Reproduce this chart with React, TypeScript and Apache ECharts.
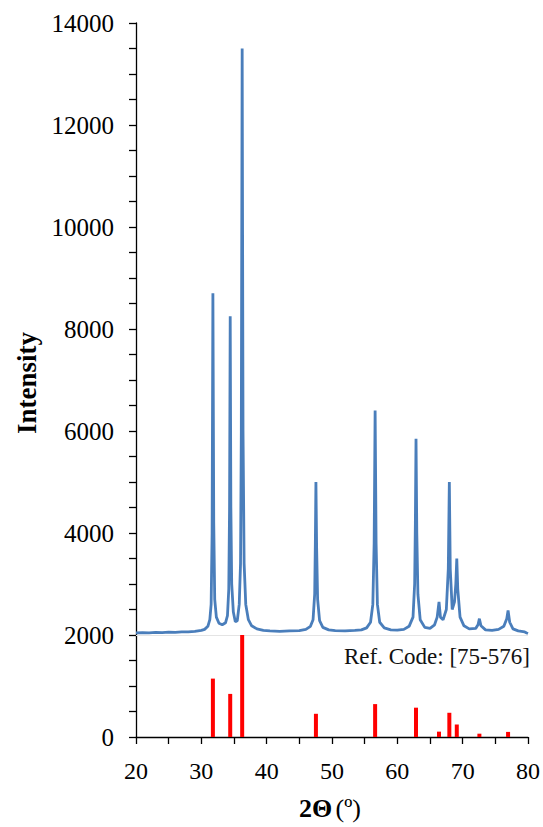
import React, { useEffect, useRef } from "react";
import * as echarts from "echarts";

const xTicks = [20, 30, 40, 50, 60, 70, 80];
const yTicks = [0, 2000, 4000, 6000, 8000, 10000, 12000, 14000];

// Measured XRD pattern (2θ, intensity)
const patternX = [
  20.0, 21, 22, 23, 24, 25, 26, 27, 28, 29, 30, 30.5, 31.0, 31.3, 31.5, 31.65, 31.77, 31.9, 32.05, 32.3,
  32.7, 33.2, 33.7, 34.0, 34.2, 34.32, 34.42, 34.52, 34.65, 34.9, 35.2, 35.5, 35.8, 36.0, 36.12, 36.25,
  36.38, 36.55, 36.8, 37.2, 37.7, 38.5, 39.5, 40.5, 42, 43.5, 45, 46, 46.7, 47.1, 47.35, 47.45, 47.54,
  47.65, 47.8, 48.1, 48.6, 49.5, 50.5, 52, 53.5, 54.5, 55.3, 55.9, 56.25, 56.45, 56.6, 56.75, 56.95,
  57.3, 58, 59, 60, 61, 61.8, 62.4, 62.65, 62.76, 62.86, 62.98, 63.15, 63.5, 64.2, 65.0, 65.7, 66.1,
  66.38, 66.6, 67.0, 67.5, 67.8, 67.96, 68.1, 68.4, 68.75, 68.95, 69.1, 69.25, 69.6, 70.2, 71, 72,
  72.35, 72.56, 72.8, 73.5, 74.5, 75.5, 76.3, 76.75, 76.95, 77.2, 77.7, 78.5, 79.5, 79.8, 80,
];
const patternY = [
  2040, 2045, 2040, 2050, 2045, 2055, 2050, 2060, 2060, 2070, 2090, 2110, 2170, 2300, 2600, 4000, 8700, 4200, 2700, 2350,
  2230, 2200, 2240, 2380, 2900, 4500, 8250, 4500, 3000, 2450, 2260, 2280, 2600, 3400, 6000, 13500,
  6000, 3400, 2600, 2300, 2180, 2120, 2090, 2080, 2070, 2080, 2085, 2110, 2170, 2300, 2800, 3800, 5000,
  3700, 2700, 2280, 2150, 2100, 2085, 2080, 2090, 2100, 2140, 2250, 2600, 3800, 6400, 3800, 2600,
  2250, 2140, 2100, 2095, 2110, 2170, 2350, 3000, 4200, 5850, 4000, 2800, 2300, 2150, 2130, 2200, 2350,
  2650, 2350, 2300, 2500, 3300, 5000, 3300, 2500, 2650, 3000, 3500, 2900, 2350, 2180, 2120, 2130,
  2200, 2320, 2180, 2100, 2090, 2110, 2170, 2320, 2480, 2250, 2120, 2080, 2060, 2040, 2030,
];

// Reference pattern (Ref. Code 75-576)
const refX = [31.77, 34.42, 36.25, 47.54, 56.6, 62.86, 66.38, 67.96, 69.1, 72.56, 76.95];
const refY = [1145, 845, 2000, 455, 645, 575, 105, 475, 245, 65, 100];

const FONT = "'Liberation Serif', 'Times New Roman', serif";

export default function App() {
  const ref = useRef<HTMLDivElement>(null);
  useEffect(() => {
    if (!ref.current) return;
    const chart = echarts.init(ref.current, undefined, { renderer: "svg" });
    const line = patternX.map((x, i) => [x, patternY[i]]);
    const bars = refX.map((x, i) => [x, refY[i]]);
    chart.setOption({
      animation: false,
      backgroundColor: "#ffffff",
      grid: { left: 136, right: 14, top: 23, bottom: 90, containLabel: false },
      xAxis: {
        type: "value",
        min: 20,
        max: 80,
        interval: 10,
        axisLine: { show: true, onZero: false, lineStyle: { color: "#000", width: 1.3 } },
        axisTick: { show: true, inside: false, length: 7, lineStyle: { color: "#000", width: 1.3 } },
        minorTick: { show: true, splitNumber: 2, length: 7, lineStyle: { color: "#000", width: 1.3 } },
        splitLine: { show: false },
        axisLabel: {
          color: "#000",
          fontFamily: FONT,
          fontSize: 24,
          margin: 22,
          formatter: (v: number) => (xTicks.includes(v) ? String(v) : ""),
        },
      },
      yAxis: {
        type: "value",
        min: 0,
        max: 14000,
        interval: 2000,
        axisLine: { show: true, lineStyle: { color: "#000", width: 1.3 } },
        axisTick: { show: true, inside: false, length: 7, lineStyle: { color: "#000", width: 1.3 } },
        minorTick: { show: true, splitNumber: 4, length: 7, lineStyle: { color: "#000", width: 1.3 } },
        splitLine: { show: false },
        axisLabel: {
          color: "#000",
          fontFamily: FONT,
          fontSize: 25,
          margin: 22,
          formatter: (v: number) => (yTicks.includes(v) ? String(v) : ""),
        },
      },
      series: [
        {
          type: "bar",
          data: bars,
          barWidth: 4,
          itemStyle: { color: "#ff0000" },
          z: 2,
        },
        {
          type: "line",
          data: line,
          showSymbol: false,
          symbol: "none",
          smooth: false,
          lineStyle: { color: "#4a7ebb", width: 2.8 },
          z: 3,
          markLine: {
            silent: true,
            symbol: "none",
            label: { show: false },
            lineStyle: { color: "#e4e4e4", width: 1, type: "solid" },
            data: [{ yAxis: 2000 }],
            z: 1,
          },
        },
      ],
      graphic: [
        {
          type: "text",
          left: 344,
          top: 645,
          style: {
            text: "Ref. Code: [75-576]",
            font: `23px ${FONT}`,
            fill: "#111",
          },
        },
        {
          type: "text",
          x: 27,
          y: 383,
          rotation: Math.PI / 2,
          style: {
            text: "Intensity",
            font: `bold 27px ${FONT}`,
            fill: "#000",
            align: "center",
            verticalAlign: "middle",
          },
        },
        {
          type: "text",
          x: 330,
          y: 808,
          style: {
            text: "{b|2Θ} {r|(º)}",
            align: "center",
            verticalAlign: "middle",
            rich: {
              b: { font: `bold 26px ${FONT}`, fill: "#000" },
              r: { font: `26px ${FONT}`, fill: "#000" },
            },
          },
        },
      ],
    });
    return () => chart.dispose();
  }, []);
  return (
    <div
      ref={ref}
      style={{ position: "absolute", left: 0, top: 0, width: 543, height: 827, background: "#fff" }}
    />
  );
}
